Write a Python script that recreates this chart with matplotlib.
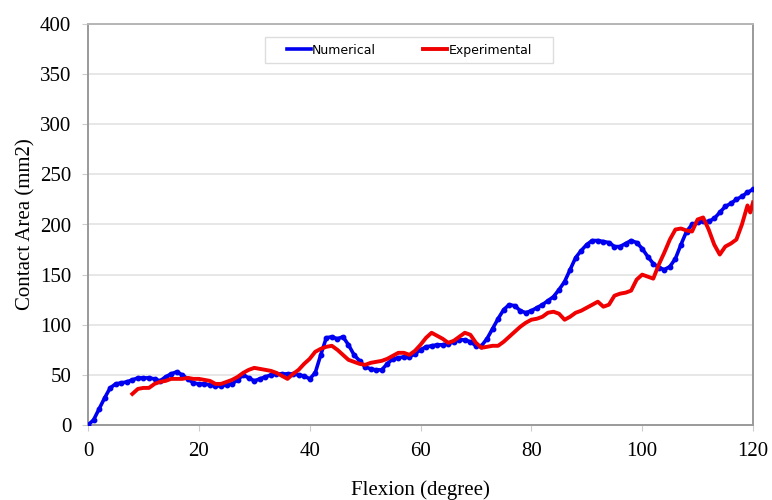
import numpy as np
import matplotlib.pyplot as plt
from matplotlib.patches import Rectangle

# Flexion angle (degree) for numerical curve, one value per degree
flexion_num = np.arange(0, 121)
area_num = [0, 5, 16, 27, 37, 41, 42, 43, 45, 47,
            47, 47, 46, 44, 48, 51, 53, 50, 46, 42,
            41, 41, 40, 39, 39, 40, 41, 45, 50, 47,
            44, 46, 48, 50, 51, 51, 51, 51, 50, 49,
            46, 52, 70, 87, 88, 86, 88, 80, 70, 64,
            58, 56, 55, 55, 61, 66, 67, 68, 68, 71,
            75, 78, 79, 80, 80, 81, 83, 85, 85, 83,
            79, 79, 86, 96, 106, 115, 120, 119, 114, 112,
            114, 117, 120, 124, 128, 135, 143, 155, 167, 174,
            180, 184, 184, 183, 182, 178, 178, 181, 184, 182,
            176, 168, 161, 157, 155, 158, 166, 180, 193, 200,
            202, 203, 203, 206, 212, 218, 221, 225, 228, 232,
            235]

# Experimental curve starts at 8 degrees
flexion_exp = [8, 9, 10, 11, 12, 13, 14, 15, 16, 17, 18, 19, 20, 21, 22, 23, 24, 25,
               26, 27, 28, 29, 30, 31, 32, 33, 34, 35, 36, 37, 38, 39, 40, 41, 42, 43,
               44, 45, 46, 47, 48, 49, 50, 51, 52, 53, 54, 55, 56, 57, 58, 59, 60, 61,
               62, 63, 64, 65, 66, 67, 68, 69, 70, 71, 72, 73, 74, 75, 76, 77, 78, 79,
               80, 81, 82, 83, 84, 85, 86, 87, 88, 89, 90, 91, 92, 93, 94, 95, 96, 97,
               98, 99, 100, 101, 102, 103, 104, 105, 106, 107, 108, 109, 110, 111, 112,
               113, 114, 115, 116, 117, 118, 119, 119.5, 120]
area_exp = [31, 36, 37, 37, 41, 43, 44, 46, 46, 46, 47, 46, 46, 45, 44, 41, 41, 43,
            45, 48, 52, 55, 57, 56, 55, 54, 52, 49, 46, 51, 55, 61, 66, 73, 76, 78,
            79, 75, 70, 65, 63, 61, 60, 62, 63, 64, 66, 69, 72, 72, 70, 74, 80, 87,
            92, 89, 86, 82, 84, 88, 92, 90, 82, 77, 78, 79, 79, 83, 88, 93, 98, 102,
            105, 106, 108, 112, 113, 111, 105, 108, 112, 114, 117, 120, 123, 118, 120,
            129, 131, 132, 134, 145, 150, 148, 146, 160, 172, 185, 195, 196, 194, 193,
            205, 207, 195, 180, 170, 178, 181, 185, 200, 219, 212, 222]

x_ticks = [0, 20, 40, 60, 80, 100, 120]
y_ticks = [0, 50, 100, 150, 200, 250, 300, 350, 400]

plt.rcParams['font.family'] = ['Liberation Serif', 'DejaVu Serif']

fig = plt.figure(figsize=(7.72, 5.0), dpi=100)
ax = fig.add_axes([0.114, 0.15, 0.8614, 0.802])

ax.plot(flexion_num, area_num, color='#0000f0', lw=2.6, marker='o', ms=3.2,
        label='Numerical', zorder=3)
ax.plot(flexion_exp, area_exp, color='#f00000', lw=2.8, label='Experimental', zorder=4)

ax.set_xlim(0, 120)
ax.set_ylim(0, 400)
ax.set_xticks(x_ticks)
ax.set_yticks(y_ticks)
ax.tick_params(labelsize=15, color='#cccccc', length=4, width=0.8)
ax.tick_params(axis='x', pad=8)
ax.tick_params(axis='y', pad=8)
ax.yaxis.grid(True, color='#e3e3e3', lw=1.2)
ax.set_axisbelow(True)
for side in ax.spines.values():
    side.set_color('#9a9a9a')
    side.set_linewidth(1.4)
ax.spines['top'].set_color('#b5b5b5')

ax.set_xlabel('Flexion (degree)', fontsize=15, labelpad=14)
ax.set_ylabel('Contact Area (mm2)', fontsize=15, labelpad=3)

# legend box drawn separately so it can be wider than the entries
ax.add_patch(Rectangle((0.266, 0.903), 0.433, 0.065, transform=ax.transAxes,
                       facecolor='white', edgecolor='#dddddd', lw=1.0, zorder=5))
leg = ax.legend(loc='center', bbox_to_anchor=(0.483, 0.935), ncol=2,
                prop={'family': 'DejaVu Sans', 'size': 9}, handlelength=1.9,
                handletextpad=0.1, columnspacing=3.8, frameon=False)
leg.set_zorder(6)
for h in leg.get_lines():
    h.set_marker('')

fig.savefig('out.png', dpi=100)
